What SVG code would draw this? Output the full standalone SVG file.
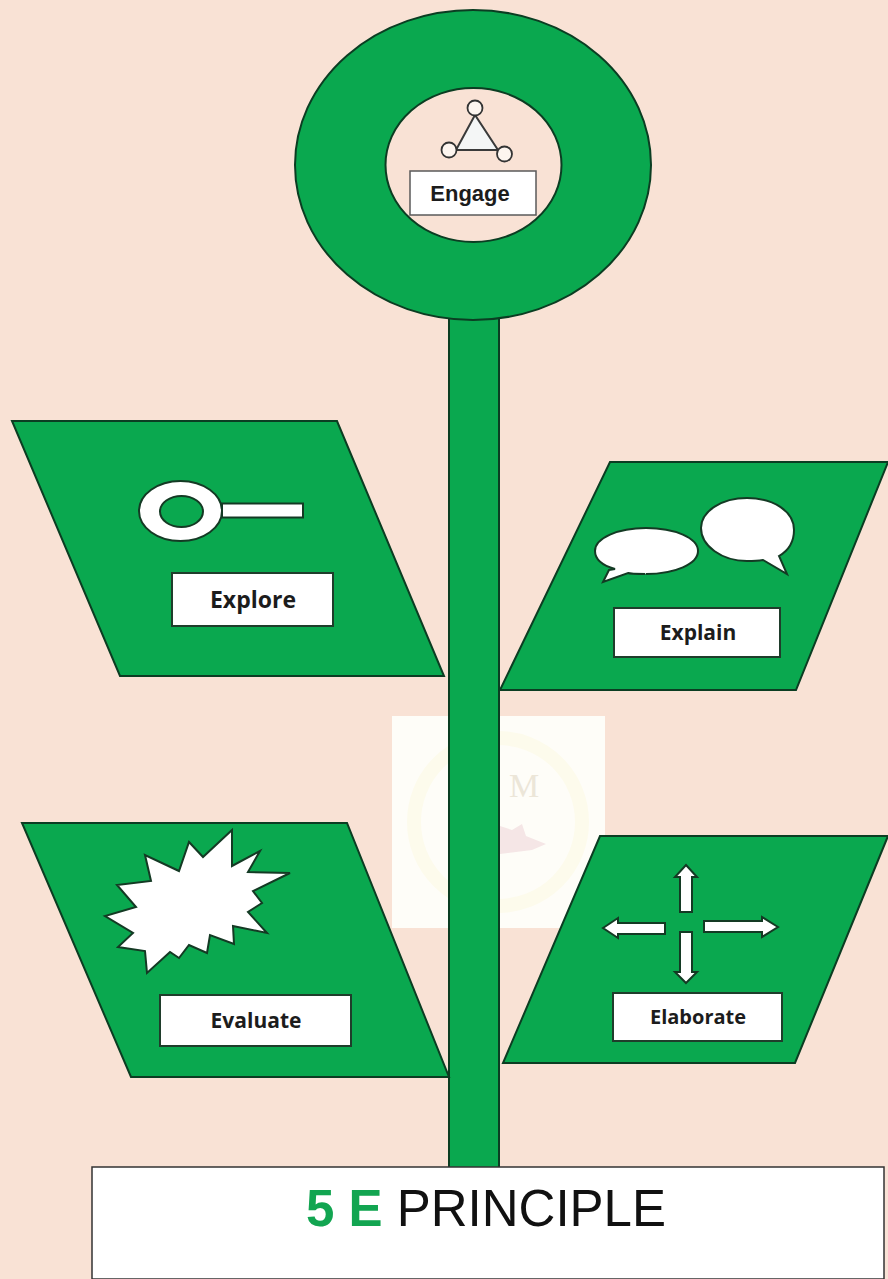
<svg xmlns="http://www.w3.org/2000/svg" width="888" height="1279" viewBox="0 0 888 1279">
<style>
.g{fill:#0aa84f;stroke:#0b3d22;stroke-width:2}
.w{fill:#fff;stroke:#143a24;stroke-width:2;stroke-linejoin:miter}
.box{fill:#fff;stroke:#1f3d2b;stroke-width:2}
.lab{font-family:"Open Sans",sans-serif;font-weight:700;font-size:21px;fill:#1c1c1c;text-anchor:middle}
</style>
<rect width="888" height="1279" fill="#f9e2d5"/>
<g id="watermark">
<rect x="392" y="716" width="213" height="212" fill="#fefdf8"/>
<circle cx="498" cy="822" r="84" fill="none" stroke="#fdfbec" stroke-width="14"/>
<text x="524" y="797" font-family="Liberation Serif, serif" font-size="34" fill="#ece6d8" text-anchor="middle">M</text>
<path d="M500 826l12 4 10-6 4 12 20 8-14 6-32 4z" fill="#f5e6e6"/>
</g>
<g id="connectors">
<rect class="g" x="449" y="316" width="50" height="852"/>
</g>
<g id="engage">
<path class="g" fill-rule="evenodd" d="M295 165a178 155 0 1 0 356 0a178 155 0 1 0 -356 0zM385.500 165a88 77 0 1 1 176 0a88 77 0 1 1 -176 0z"/>
<path d="M475 115L456 150H498z" fill="#f4f6f6" stroke="#3a3a3a" stroke-width="2"/>
<circle cx="475" cy="108" r="7.500" fill="#fdf5ef" stroke="#333" stroke-width="1.800"/>
<circle cx="449" cy="150" r="7.500" fill="#fdf5ef" stroke="#333" stroke-width="1.800"/>
<circle cx="504.500" cy="154" r="7.500" fill="#fdf5ef" stroke="#333" stroke-width="1.800"/>
<rect x="410" y="171" width="126" height="44" fill="#fff" stroke="#5a5a5a" stroke-width="1.500"/>
<text x="470" y="201" font-family="Liberation Sans, sans-serif" font-weight="700" font-size="22" fill="#1c1c1c" text-anchor="middle">Engage</text>
</g>
<g id="explore">
<path class="g" d="M12 421H337L444 676H120Z"/>
<path class="w" fill-rule="evenodd" d="M139 511a41.500 30 0 1 0 83 0a41.500 30 0 1 0 -83 0zM160 511.500a21.500 15.500 0 1 1 43 0a21.500 15.500 0 1 1 -43 0z"/>
<rect class="w" x="222" y="503.500" width="81" height="14"/>
<rect class="box" x="172" y="573" width="161" height="53"/>
<text class="lab" x="253" y="608" style="font-size:23px">Explore</text>
</g>
<g id="explain">
<path class="g" d="M610 462H888L796 690H500Z"/>
<path class="w" d="M615 569C601 565 595 558 595 551C595 538 618 528 646 528C675 528 698 538 698 551C698 564 675 574 646 574C647 574 630 574 628 573L603 582L609 570Z"/>
<path class="w" d="M701 528C701 511 722 498 747 498C773 498 794 511 794 530C794 544 786 552 779 556L787 574L763 560C757 561 752 561 747 561C722 561 701 546 701 528Z"/>
<rect class="box" x="614" y="608" width="166" height="49"/>
<text class="lab" x="698" y="640">Explain</text>
</g>
<g id="evaluate">
<path class="g" d="M22 823H347L449 1077H131Z"/>
<path class="w" d="M232 830L203 857L189 842L179 871L145 855L151 881L117 885L136 907L105 916L133 933L118 947L145 951L147 973L170 952L179 958L189 945L207 953L210 935L234 944L233 926L267 933L248 912L262 903L253 891L290 873L248 872L260 851L232 866Z"/>
<rect class="box" x="160" y="995" width="191" height="51"/>
<text class="lab" x="256" y="1028">Evaluate</text>
</g>
<g id="elaborate">
<path class="g" d="M600 836H888L795 1063H503Z"/>
<path class="w" d="M686 865L697 877H692V912H680V877H675Z"/>
<path class="w" d="M686 983L697 972H692V932H680V972H675Z"/>
<path class="w" d="M603 928L618 918V923H665V934H618V938Z"/>
<path class="w" d="M778 927L762 917V921H704V932H762V937Z"/>
<rect class="box" x="613" y="993" width="169" height="48"/>
<text class="lab" x="698" y="1024" style="font-size:20px">Elaborate</text>
</g>
<g id="title">
<rect x="92" y="1167" width="792" height="112" fill="#fff" stroke="#333" stroke-width="1.500"/>
<text x="306" y="1226" font-family="Liberation Sans, sans-serif" font-size="51" fill="#111"><tspan font-weight="700" fill="#12a551">5 E</tspan> PRINCIPLE</text>
</g>
</svg>
